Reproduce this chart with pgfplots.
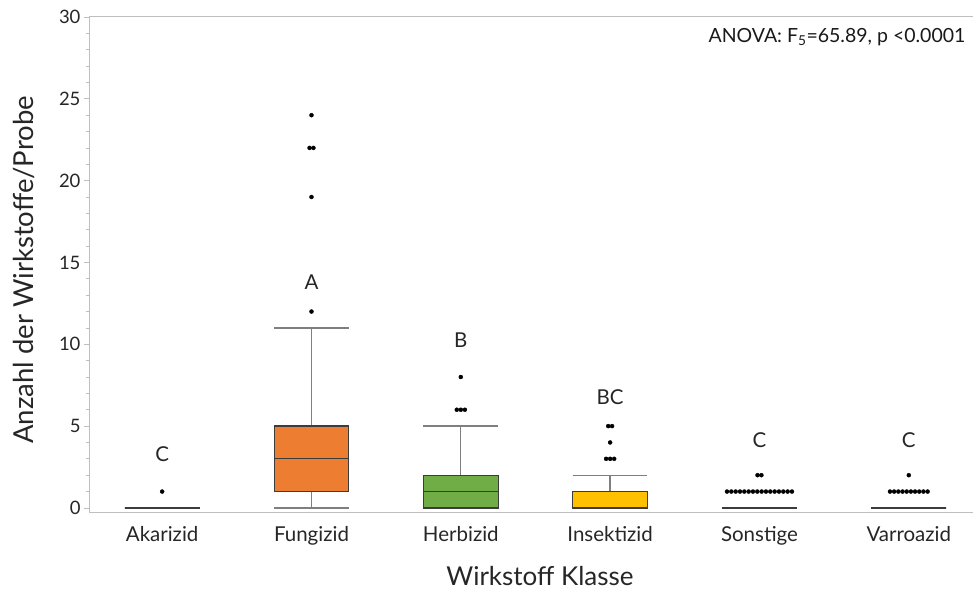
\documentclass[border=0pt]{standalone}
\usepackage{pgfplots}
\pgfplotsset{compat=1.18}
\usepgfplotslibrary{statistics}
\usepackage{fontspec}
\setmainfont{Lato}
\definecolor{fung}{HTML}{ED7D31}
\definecolor{herb}{HTML}{70AD47}
\definecolor{insk}{HTML}{FFC000}
\definecolor{boxedge}{HTML}{3C3C3C}
\definecolor{whisk}{HTML}{7F7F7F}
\definecolor{axgray}{HTML}{BFBFBF}
\begin{document}
\begin{tikzpicture}
\begin{axis}[
  scale only axis, width=884bp, height=495.5bp,
  xmin=-0.49, xmax=5.43, ymin=-0.28, ymax=30,
  axis x line*=bottom, axis y line*=left,
  axis line style={draw=axgray, line width=1bp},
  xtick={0,1,2,3,4,5},
  xticklabels={Akarizid,Fungizid,Herbizid,Insektizid,Sonstige,Varroazid},
  x tick style={draw=none},
  ytick={0,5,10,15,20,25,30},
  minor y tick num=4,
  tick align=outside,
  y tick style={draw=axgray, line width=0.8bp},
  major tick length=5bp, minor tick length=3bp,
  /pgf/number format/assume math mode=true,
  yticklabel style={font=\fontsize{18.5bp}{20bp}\selectfont, text=black!85},
  xticklabel style={font=\fontsize{20.5bp}{22bp}\selectfont, text=black!85, yshift=-5bp},
  clip=false,
  boxplot/draw direction=y,
  boxplot/box extend=0.5,
  boxplot/whisker extend=0.5,
  boxplot/every whisker/.style={draw=whisk, line width=1.3bp},
  boxplot/every median/.style={draw=boxedge, line width=1.3bp},
  boxplot/every box/.style={draw=boxedge, line width=1.3bp},
]
% top border line
\draw[axgray, line width=1bp] (rel axis cs:0,1) -- (rel axis cs:1,1);

\addplot[boxplot prepared={draw position=0, lower whisker=0, lower quartile=0, median=0, upper quartile=0, upper whisker=0}, draw=boxedge] coordinates {};
\addplot[boxplot prepared={draw position=1, lower whisker=0, lower quartile=1, median=3, upper quartile=5, upper whisker=11}, fill=fung, draw=boxedge] coordinates {};
\addplot[boxplot prepared={draw position=2, lower whisker=0, lower quartile=0, median=1, upper quartile=2, upper whisker=5}, fill=herb, draw=boxedge] coordinates {};
\addplot[boxplot prepared={draw position=3, lower whisker=0, lower quartile=0, median=0, upper quartile=1, upper whisker=2}, fill=insk, draw=boxedge] coordinates {};
\addplot[boxplot prepared={draw position=4, lower whisker=0, lower quartile=0, median=0, upper quartile=0, upper whisker=0}, draw=boxedge] coordinates {};
\addplot[boxplot prepared={draw position=5, lower whisker=0, lower quartile=0, median=0, upper quartile=0, upper whisker=0}, draw=boxedge] coordinates {};

% outliers
\addplot[only marks, mark=*, mark size=2bp, black] coordinates {
 (0,1)
 (1,12) (1,19) (0.987,22) (1.013,22) (1,24)
 (1.973,6) (2,6) (2.027,6) (2,8)
 (2.973,3) (3,3) (3.027,3) (3,4) (2.987,5) (3.013,5)
 (3.7825,1) (3.8115,1) (3.8405,1) (3.8695,1) (3.8985,1) (3.9275,1) (3.9565,1) (3.9855,1)
 (4.0145,1) (4.0435,1) (4.0725,1) (4.1015,1) (4.1305,1) (4.1595,1) (4.1885,1) (4.2175,1)
 (3.987,2) (4.013,2)
 (4.874,1) (4.902,1) (4.930,1) (4.958,1) (4.986,1) (5.014,1) (5.042,1) (5.070,1) (5.098,1) (5.126,1)
 (5,2)
};

% group letters
\begin{scope}[every node/.style={font=\fontsize{20.5bp}{22bp}\selectfont, text=black!85}]
\node at (axis cs:0,3.3) {C};
\node at (axis cs:1,13.8) {A};
\node at (axis cs:2,10.27) {B};
\node at (axis cs:3,6.78) {BC};
\node at (axis cs:4,4.15) {C};
\node at (axis cs:5,4.15) {C};
\end{scope}
\node[anchor=east, font=\fontsize{19.5bp}{21bp}\selectfont, text=black!90] at ([xshift=-4bp]axis cs:5.43,28.8) {ANOVA: F\textsubscript{5}=65.89, p <0.0001};
\end{axis}
% axis titles
\node[anchor=base, font=\fontsize{26bp}{28bp}\selectfont, text=black!85] at ([xshift=9bp, yshift=-72.5bp]current axis.south) {Wirkstoff Klasse};
\node[anchor=base, rotate=90, font=\fontsize{27.5bp}{29bp}\selectfont, text=black!85] at ([xshift=-56bp, yshift=-5bp]current axis.west) {Anzahl der Wirkstoffe/Probe};
\pgfresetboundingbox
\path[use as bounding box] ([xshift=-89bp,yshift=17bp]current axis.north west) rectangle ([yshift=-77.5bp]current axis.south east);
\end{tikzpicture}
\end{document}
